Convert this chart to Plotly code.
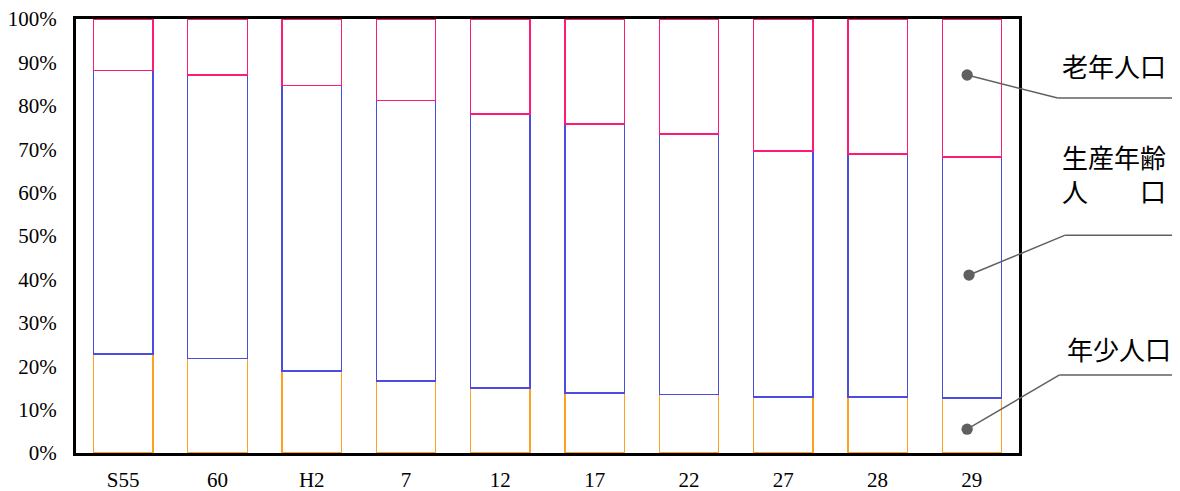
import plotly.graph_objects as go

categories = ["S55", "60", "H2", "7", "12", "17", "22", "27", "28", "29"]
young = [22.8, 21.7, 18.9, 16.6, 15.0, 13.8, 13.4, 12.9, 12.9, 12.7]
young_plus_working = [88.2, 87.1, 84.6, 81.3, 78.1, 75.8, 73.5, 69.6, 68.9, 68.2]
working = [round(t - y, 1) for t, y in zip(young_plus_working, young)]
elderly = [round(100 - t, 1) for t in young_plus_working]

series = [("年少人口", young, "#FFA020"),
          ("生産年齢人口", working, "#4B4BE0"),
          ("老年人口", elderly, "#FF1A75")]

x = list(range(len(categories)))
fig = go.Figure()
for name, vals, col in series:
    fig.add_trace(go.Bar(x=x, y=vals, name=name, width=0.63,
                         marker=dict(color="white", line=dict(color=col, width=1.3))))

serif = "Liberation Serif, Times New Roman, serif"
fig.update_layout(
    barmode="stack", width=1172, height=483, showlegend=False,
    plot_bgcolor="white", paper_bgcolor="white",
    margin=dict(l=68, r=161, t=11, b=38, autoexpand=False),
    font=dict(family=serif, size=21, color="black"),
)
fig.update_xaxes(range=[-0.5, 9.5], tickvals=x, ticktext=categories, showgrid=False,
                 showline=True, mirror=True, linecolor="black", linewidth=3,
                 ticks="", zeroline=False, automargin=False, ticklabeloverflow="allow",
                 tickfont=dict(family=serif, size=21), ticklabelstandoff=6)
fig.update_yaxes(range=[0, 100], tickvals=list(range(0, 101, 10)),
                 ticktext=[f"{v}%" for v in range(0, 101, 10)], showgrid=False,
                 showline=True, mirror=True, linecolor="black", linewidth=3,
                 ticks="", zeroline=False, automargin=False, ticklabeloverflow="allow",
                 tickfont=dict(family=serif, size=21), ticklabelstandoff=12)

gray = "#606060"
leaders = [  # dot (paper), knee (paper)
    ((0.945, 0.871), (1.041, 0.818)),
    ((0.947, 0.410), (1.049, 0.502)),
    ((0.945, 0.055), (1.043, 0.180)),
]
for (dx, dy), (kx, ky) in leaders:
    fig.add_shape(type="line", xref="paper", yref="paper", x0=dx, y0=dy, x1=kx, y1=ky,
                  line=dict(color=gray, width=1.5))
    fig.add_shape(type="line", xref="paper", yref="paper", x0=kx, y0=ky, x1=1.18, y1=ky,
                  line=dict(color=gray, width=1.5))
    r = 0.006
    fig.add_shape(type="circle", xref="paper", yref="paper",
                  x0=dx - r, x1=dx + r, y0=dy - r * 943 / 434, y1=dy + r * 943 / 434,
                  fillcolor=gray, line=dict(color=gray, width=0))

cjk = dict(family="Noto Sans CJK JP", size=26, color="black")
fig.add_annotation(xref="paper", yref="paper", x=1.044, y=0.892, text="老年人口",
                   showarrow=False, xanchor="left", yanchor="middle", font=cjk)
fig.add_annotation(xref="paper", yref="paper", x=1.044, y=0.645,
                   text="生産年齢<br>人　　口", showarrow=False, xanchor="left",
                   yanchor="middle", align="left", font=cjk)
fig.add_annotation(xref="paper", yref="paper", x=1.049, y=0.240, text="年少人口",
                   showarrow=False, xanchor="left", yanchor="middle", font=cjk)

fig.write_html("out.html")
